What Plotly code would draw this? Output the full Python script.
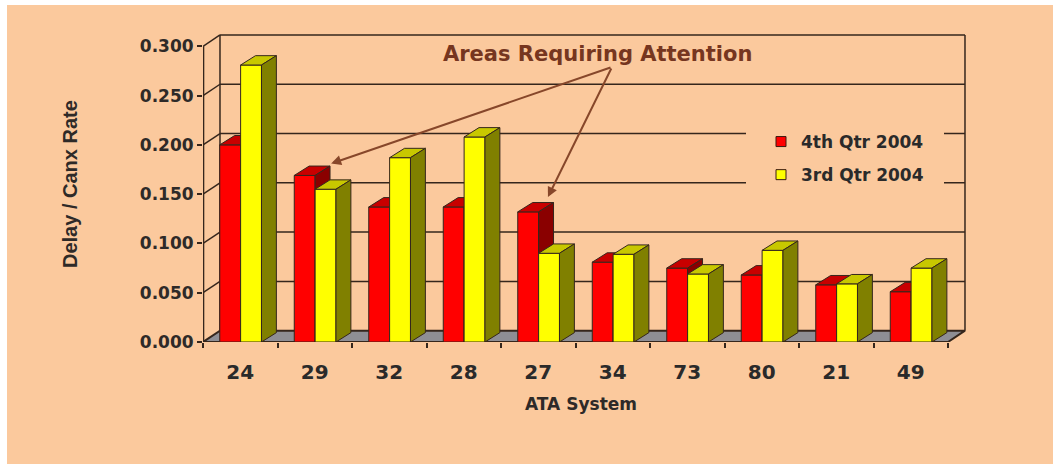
import plotly.graph_objects as go

# ATA system codes and delay/cancellation rates per quarter
systems = ["24", "29", "32", "28", "27", "34", "73", "80", "21", "49"]
q4_2004 = [0.200, 0.169, 0.137, 0.137, 0.132, 0.081, 0.075, 0.068, 0.058, 0.051]
q3_2004 = [0.281, 0.155, 0.187, 0.208, 0.090, 0.089, 0.069, 0.093, 0.059, 0.075]
series_names = ["4th Qtr 2004", "3rd Qtr 2004"]
y_ticks = [0.0, 0.05, 0.10, 0.15, 0.20, 0.25, 0.30]
flagged = ["29", "27"]

# pseudo-3D geometry (data units)
WALL_DX, WALL_DY = 0.228, 0.0115   # depth of the back wall / floor
BAR_DX, BAR_DY = 0.20, 0.0095      # depth of each column
BAR_W = 0.28
RED_OFF = -0.275                   # left edge of the first column in a group

PEACH = "#FBC99D"
INK = "#35261c"
FONT = "DejaVu Sans"

# plot-area placement in pixels
L, R, T, B = 203, 86, 33, 122
W, H = 1053, 464
PW, PH = W - L - R, H - T - B


def px_x(p):
    return (p - L) / PW


def px_y(p):
    return (H - B - p) / PH


n = len(systems)
xs = list(range(n))
x_lo, x_hi = -0.5, n - 0.5
y_top = y_ticks[-1]

fig = go.Figure()


def poly_trace(polys, fill, line_color=INK, width=1.0):
    px, py = [], []
    for poly in polys:
        for (a, b) in poly:
            px.append(a)
            py.append(b)
        px.append(poly[0][0])
        py.append(poly[0][1])
        px.append(None)
        py.append(None)
    return go.Scatter(x=px, y=py, mode="lines", fill="toself", fillcolor=fill,
                      line=dict(color=line_color, width=width),
                      hoverinfo="skip", showlegend=False)


def line_trace(segs, color=INK, width=1.5):
    px, py = [], []
    for seg in segs:
        for (a, b) in seg:
            px.append(a)
            py.append(b)
        px.append(None)
        py.append(None)
    return go.Scatter(x=px, y=py, mode="lines", line=dict(color=color, width=width),
                      hoverinfo="skip", showlegend=False)


# floor
floor = [(x_lo, 0), (x_hi, 0), (x_hi + WALL_DX, WALL_DY), (x_lo + WALL_DX, WALL_DY)]
fig.add_trace(poly_trace([floor], "#8e8e94", width=2.0))

# back wall gridlines, side wall diagonals, wall edges and the front value axis
grid = []
for v in y_ticks[1:]:
    grid.append([(x_lo + WALL_DX, v + WALL_DY), (x_hi + WALL_DX, v + WALL_DY)])
    grid.append([(x_lo, v), (x_lo + WALL_DX, v + WALL_DY)])
grid.append([(x_lo + WALL_DX, WALL_DY), (x_lo + WALL_DX, y_top + WALL_DY)])
grid.append([(x_hi + WALL_DX, WALL_DY), (x_hi + WALL_DX, y_top + WALL_DY)])
fig.add_trace(line_trace(grid, width=1.5))
fig.add_trace(line_trace([[(x_lo, 0), (x_lo, y_top)]], width=2.6))


def column_faces(x0, h):
    x1 = x0 + BAR_W
    front = [(x0, 0), (x1, 0), (x1, h), (x0, h)]
    top = [(x0, h), (x1, h), (x1 + BAR_DX, h + BAR_DY), (x0 + BAR_DX, h + BAR_DY)]
    side = [(x1, 0), (x1 + BAR_DX, BAR_DY), (x1 + BAR_DX, h + BAR_DY), (x1, h)]
    return front, top, side


palette = [
    ("#FF0000", "#C80000", "#8A0000"),   # 4th quarter: front, top, side
    ("#FFFF00", "#C8C800", "#808000"),   # 3rd quarter
]

for s, values in enumerate([q4_2004, q3_2004]):
    fronts, tops, sides = [], [], []
    for i, v in zip(xs, values):
        f, t, sd = column_faces(i + RED_OFF + s * BAR_W, v)
        fronts.append(f)
        tops.append(t)
        sides.append(sd)
    c_front, c_top, c_side = palette[s]
    fig.add_trace(poly_trace(fronts, c_front))
    fig.add_trace(poly_trace(tops, c_top))
    fig.add_trace(poly_trace(sides, c_side))

# legend entries
for s, name in enumerate(series_names):
    fig.add_trace(go.Scatter(
        x=[None], y=[None], mode="markers", name=name, legendgroup=name,
        marker=dict(symbol="square", size=10, color=palette[s][0],
                    line=dict(color="#3a1a10", width=1)),
    ))

# callout
tail_x, tail_y = 4.99, 0.279
fig.add_annotation(x=4.79, y=0.292, xref="x", yref="y", text="Areas Requiring Attention",
                   showarrow=False, font=dict(family=FONT, size=21, color="#763620", weight="bold"))
head_offsets = {"29": (0.22, 0.012), "27": (0.13, 0.015)}
for code in flagged:
    i = systems.index(code)
    dx, dy = head_offsets[code]
    fig.add_annotation(x=i + dx, y=q4_2004[i] + dy, xref="x", yref="y",
                       ax=tail_x, ay=tail_y, axref="x", ayref="y", text="",
                       showarrow=True, arrowhead=2, arrowsize=1.0, arrowwidth=2,
                       arrowcolor="#87472a", standoff=0)

# axis titles
fig.add_annotation(x=px_x(70), y=px_y(184), xref="paper", yref="paper",
                   xanchor="center", yanchor="middle",
                   text="Delay / Canx Rate", textangle=-90, showarrow=False,
                   font=dict(family="Liberation Sans", size=20, color="#2e2a28", weight="bold"))
fig.add_annotation(x=px_x(581), y=px_y(404), xref="paper", yref="paper",
                   xanchor="center", yanchor="middle",
                   text="ATA System", showarrow=False,
                   font=dict(family=FONT, size=17, color="#2e2a28", weight="bold"))

# thin white frame along the top and left edges
fig.add_shape(type="rect", xref="paper", yref="paper", layer="below",
              x0=px_x(-20), x1=px_x(7), y0=px_y(H + 20), y1=px_y(-20),
              fillcolor="white", line=dict(width=0))
fig.add_shape(type="rect", xref="paper", yref="paper", layer="below",
              x0=px_x(-20), x1=px_x(W + 20), y0=px_y(5), y1=px_y(-20),
              fillcolor="white", line=dict(width=0))

BORDER = 15
fig.update_layout(
    width=W, height=H,
    margin=dict(l=L, r=R, t=T, b=B, autoexpand=False),
    paper_bgcolor=PEACH, plot_bgcolor=PEACH,
    showlegend=True,
    legend=dict(x=px_x(761 - BORDER), y=px_y(124 - BORDER), xanchor="left", yanchor="top",
                bgcolor=PEACH, bordercolor=PEACH, borderwidth=BORDER, tracegroupgap=8,
                font=dict(family=FONT, size=17, color="#2a2a2a", weight="bold")),
    xaxis=dict(range=[x_lo, x_hi + WALL_DX + 0.027], showgrid=False, zeroline=False,
               tickmode="array", tickvals=xs, ticktext=systems, ticks="",
               ticklabelstandoff=16, showline=False,
               tickfont=dict(family=FONT, size=20, color="#2a2a2a", weight="bold"),
               minor=dict(tickmode="array", tickvals=[x + 0.5 for x in [-1] + xs],
                          ticks="outside", ticklen=5, tickwidth=1.5, tickcolor=INK,
                          showgrid=False)),
    yaxis=dict(range=[0, y_top + WALL_DY + 0.002], showgrid=False, zeroline=False,
               tickmode="array", tickvals=y_ticks, tickformat=".3f",
               ticks="outside", ticklen=5, tickwidth=1.5, tickcolor=INK, showline=False,
               tickfont=dict(family=FONT, size=17, color="#2e2a28", weight="bold")),
)

fig.write_html("out.html")
